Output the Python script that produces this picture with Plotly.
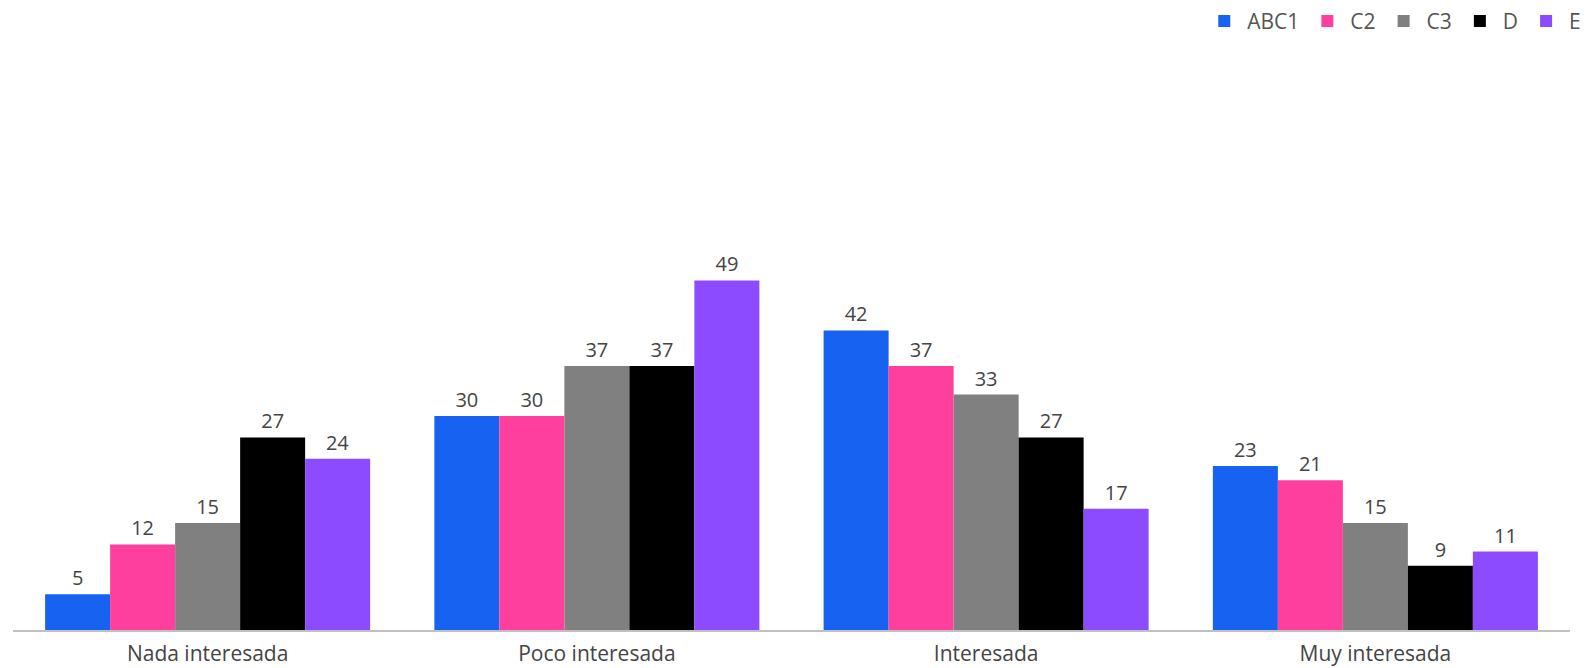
import plotly.graph_objects as go

categories = ["Nada interesada", "Poco interesada", "Interesada", "Muy interesada"]
series_names = ["ABC1", "C2", "C3", "D", "E"]
abc1 = [5, 30, 42, 23]
c2 = [12, 30, 37, 21]
c3 = [15, 37, 33, 15]
d = [27, 37, 27, 9]
e = [24, 49, 17, 11]
colors = ["#1762F0", "#FF3F9E", "#808080", "#000000", "#8D4BFF"]

values = [abc1, c2, c3, d, e]
FONT = "Open Sans, Liberation Sans, Arial"

fig = go.Figure()
for name, vals, col in zip(series_names, values, colors):
    fig.add_trace(go.Bar(
        name=name, x=categories, y=vals, marker_color=col,
        marker_line_width=0,
        text=[str(v) for v in vals], textposition="outside",
        textfont=dict(family=FONT, size=20, color="#444444"),
        cliponaxis=False,
    ))

fig.update_layout(
    barmode="group", bargap=0.165, bargroupgap=0,
    width=1591, height=668,
    margin=dict(l=5, r=29, t=194, b=46, autoexpand=False),
    plot_bgcolor="white", paper_bgcolor="white",
    font=dict(family=FONT, color="#444444"),
    legend=dict(orientation="h", xref="container", yref="container",
                x=0.992, xanchor="right", y=0.98, yanchor="middle",
                font=dict(family=FONT, size=21, color="#555555"), itemwidth=36,
                traceorder="normal", bgcolor="rgba(0,0,0,0)"),
    showlegend=True,
)
fig.update_yaxes(range=[0, 60], visible=False, showgrid=False)
fig.update_xaxes(showline=True, linecolor="#c0c0c0", linewidth=2, ticks="",
                 ticklabelstandoff=4,
                 tickfont=dict(family=FONT, size=21, color="#444444"))

fig.write_html("out.html")
